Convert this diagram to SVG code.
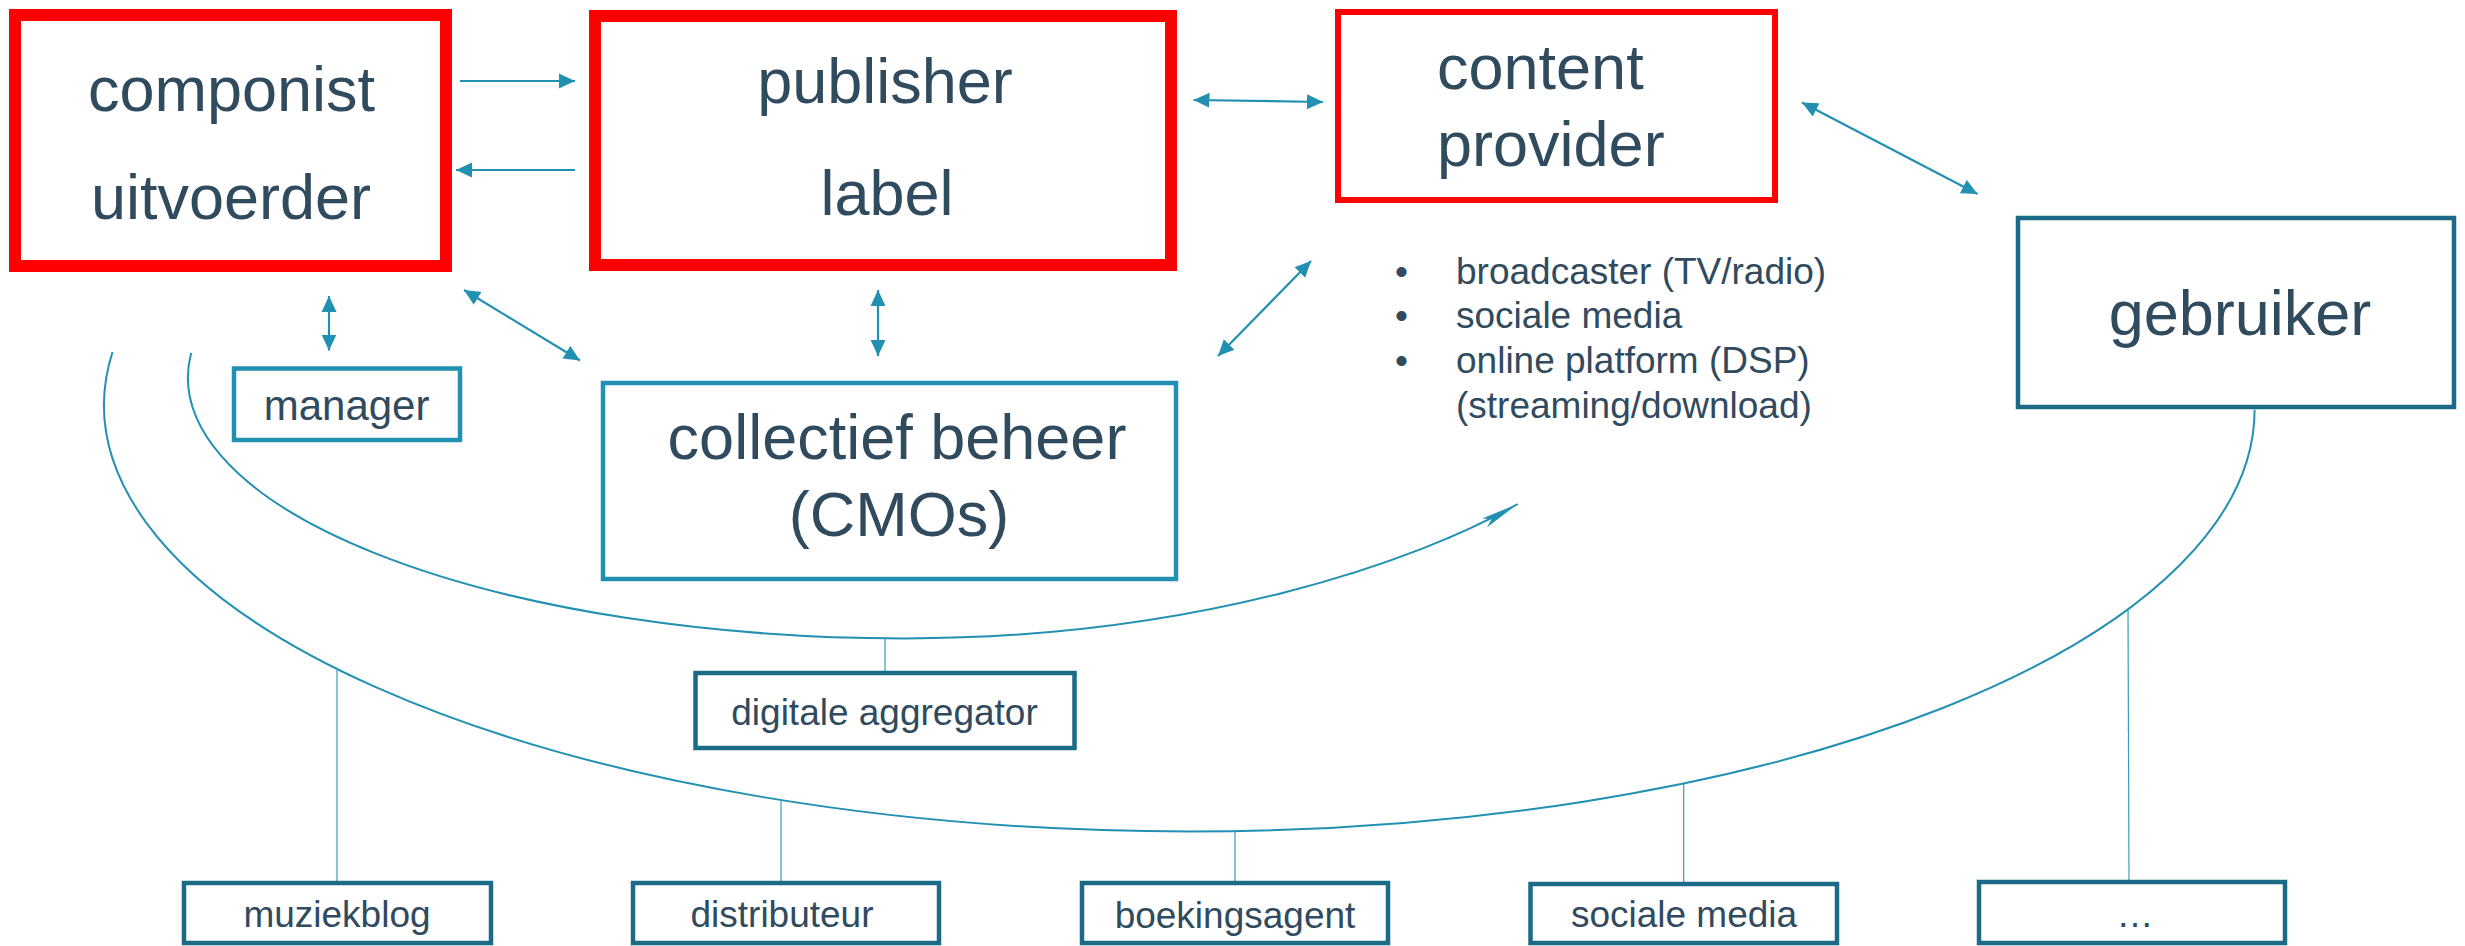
<svg xmlns="http://www.w3.org/2000/svg" width="2465" height="946" viewBox="0 0 2465 946">
<style>
  text { font-family: "Liberation Sans", Arial, sans-serif; fill: #304A5E; }
  .big { font-size: 63px; }
  .mid { font-size: 42px; }
  .small { font-size: 37px; }
  .red { fill: #FFFFFF; stroke: #FF0000; }
  .teal { fill: #FFFFFF; stroke: #2190B2; stroke-width: 4.5; }
  .dark { fill: #FFFFFF; stroke: #1B6B86; stroke-width: 4.5; }
  .arrow { fill: none; stroke: #2190B2; stroke-width: 2.2; marker-start: url(#ah); marker-end: url(#ah); }
  .arrow1 { fill: none; stroke: #2190B2; stroke-width: 2.2; marker-end: url(#ah); }
  .curve { fill: none; stroke: #2190B2; stroke-width: 2; }
  .stem { fill: none; stroke: #3A9CBC; stroke-width: 1.2; }
</style>
<defs>
  <marker id="ah" markerUnits="userSpaceOnUse" viewBox="0 0 16 16" markerWidth="16" markerHeight="16" refX="16" refY="8" orient="auto-start-reverse">
    <path d="M0,0.5 L16,8 L0,15.5 Z" fill="#2190B2"/>
  </marker>
  <marker id="stealth" markerUnits="userSpaceOnUse" viewBox="-40 -6 42 12" markerWidth="42" markerHeight="12" refX="0" refY="0" orient="auto">
    <path d="M0,0 L-38,-5 L-30,0 L-38,5 Z" fill="#2190B2"/>
  </marker>
</defs>
<rect width="2465" height="946" fill="#FFFFFF"/>

<g id="connectors">
  <line class="arrow1" x1="460" y1="81" x2="575" y2="81"/>
  <line class="arrow1" x1="575" y1="170" x2="456" y2="170"/>
  <line class="arrow" x1="329" y1="296" x2="329" y2="350.5"/>
  <line class="arrow" x1="464" y1="290" x2="580" y2="360.5"/>
  <line class="arrow" x1="878" y1="290" x2="878" y2="356"/>
  <line class="arrow" x1="1193.5" y1="100" x2="1323" y2="102"/>
  <line class="arrow" x1="1218" y1="356" x2="1311" y2="261"/>
  <line class="arrow" x1="1802" y1="102.4" x2="1977.5" y2="194"/>
  <path class="curve" d="M191.1,353 A716.7,261 0 0 0 904.7,638.4 C1200,638.4 1420,560 1517.6,504" marker-end="url(#stealth)"/>
  <path class="curve" d="M112.5,352 A1086.4,426.5 0 0 0 1190,831.5 A1064.6,421.7 0 0 0 2254.6,409.8"/>
  <line class="stem" x1="885" y1="638" x2="885" y2="671"/>
  <line class="stem" x1="337" y1="669" x2="337" y2="881"/>
  <line class="stem" x1="781" y1="800" x2="781" y2="881"/>
  <line class="stem" x1="1235" y1="831" x2="1235" y2="881"/>
  <line class="stem" x1="1683.7" y1="783" x2="1683.7" y2="882"/>
  <line class="stem" x1="2128" y1="609" x2="2129" y2="880"/>
</g>

<g id="componist">
  <rect class="red" x="15" y="15" width="431" height="251" stroke-width="12"/>
  <text class="big" x="231.5" y="111" text-anchor="middle">componist</text>
  <text class="big" x="231" y="219" text-anchor="middle">uitvoerder</text>
</g>

<g id="publisher">
  <rect class="red" x="595" y="16" width="576" height="249" stroke-width="12"/>
  <text class="big" x="885" y="102.6" text-anchor="middle">publisher</text>
  <text class="big" x="887" y="215" text-anchor="middle">label</text>
</g>

<g id="content-provider">
  <rect class="red" x="1338" y="12" width="437" height="188" stroke-width="6"/>
  <text class="big" x="1437" y="89">content</text>
  <text class="big" x="1437" y="166">provider</text>
</g>

<g id="content-types">
  <text class="small" x="1395" y="283.5">•</text>
  <text class="small" x="1456" y="283.5">broadcaster (TV/radio)</text>
  <text class="small" x="1395" y="328">•</text>
  <text class="small" x="1456" y="328">sociale media</text>
  <text class="small" x="1395" y="373">•</text>
  <text class="small" x="1456" y="373">online platform (DSP)</text>
  <text class="small" x="1456" y="417.5">(streaming/download)</text>
</g>

<g id="gebruiker">
  <rect class="dark" x="2018" y="218" width="436" height="189"/>
  <text class="big" x="2240" y="335" text-anchor="middle">gebruiker</text>
</g>

<g id="manager">
  <rect class="teal" x="234" y="368.5" width="226" height="71.5"/>
  <text class="mid" x="346.6" y="420" text-anchor="middle">manager</text>
</g>

<g id="cmo">
  <rect class="teal" x="603" y="383" width="573" height="196" stroke-width="4"/>
  <text class="big" x="897" y="459" text-anchor="middle">collectief beheer</text>
  <text class="big" x="899" y="536" text-anchor="middle">(CMOs)</text>
</g>

<g id="aggregator">
  <rect class="dark" x="695.5" y="673" width="379" height="75" stroke-width="4"/>
  <text class="small" x="884.5" y="725" text-anchor="middle">digitale aggregator</text>
</g>

<g id="muziekblog">
  <rect class="dark" x="184" y="883" width="307" height="60" stroke-width="4"/>
  <text class="small" x="337" y="927" text-anchor="middle">muziekblog</text>
</g>

<g id="distributeur">
  <rect class="dark" x="633" y="883" width="306" height="60" stroke-width="4"/>
  <text class="small" x="782" y="927" text-anchor="middle">distributeur</text>
</g>

<g id="boekingsagent">
  <rect class="dark" x="1082" y="883" width="306" height="60" stroke-width="4"/>
  <text class="small" x="1235" y="928" text-anchor="middle">boekingsagent</text>
</g>

<g id="sociale-media">
  <rect class="dark" x="1530.5" y="884" width="306.5" height="59" stroke-width="4"/>
  <text class="small" x="1684" y="927" text-anchor="middle">sociale media</text>
</g>

<g id="more">
  <rect class="dark" x="1979" y="882" width="306" height="61" stroke-width="4"/>
  <text class="small" x="2135" y="927" text-anchor="middle">…</text>
</g>
</svg>
